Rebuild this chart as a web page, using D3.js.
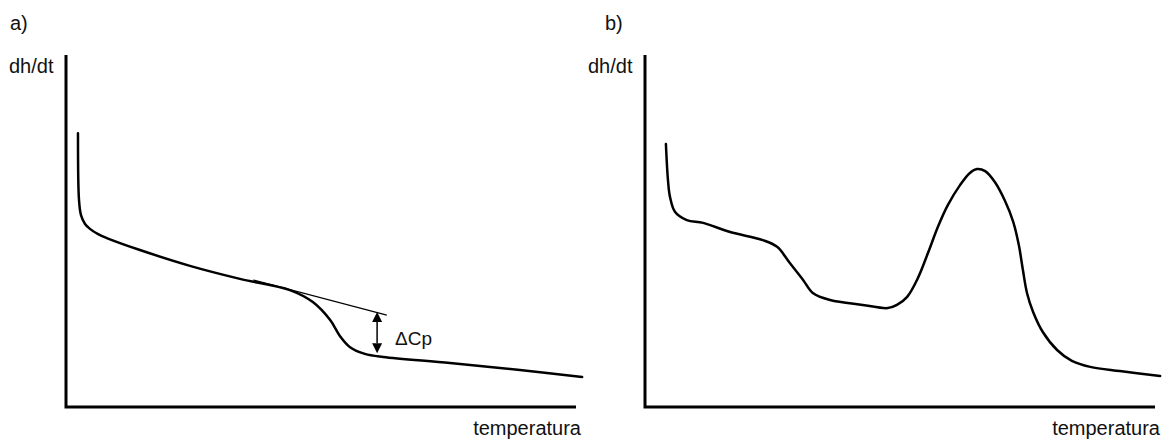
<!DOCTYPE html>
<html>
<head>
<meta charset="utf-8">
<script src="https://cdn.jsdelivr.net/npm/d3@7"></script>
<style>
  html, body { margin: 0; padding: 0; background: #fff; }
  svg text { font-family: "Liberation Sans", Arial, sans-serif; fill: #111; }
</style>
</head>
<body>
<svg id="chart" width="1169" height="440"></svg>
<script>
// Panel a) — glass transition: heat flow vs temperature
const tempA = [2.35, 2.55, 2.94, 3.73, 4.7, 6.3, 8.0, 14.5, 24.3, 34.1, 43.9, 48.4, 51.8, 53.7, 55.7, 58.6, 62.2, 75.3, 89.0, 101.2];
const flowA = [77.8, 58.8, 54.5, 52.0, 50.6, 49.1, 48.0, 44.6, 40.1, 36.4, 33.2, 29.8, 24.7, 20.2, 17.0, 15.1, 14.2, 12.5, 10.5, 8.5];

// extrapolated baseline before the step
const tangentT = [36.7, 62.9];
const tangentF = [36.1, 26.1];

// ΔCp step marker
const stepT = 61.0;
const stepF = [27.0, 15.3];

// Panel b) — step followed by an endothermic peak
const tempB = [4.1, 4.5, 4.9, 5.9, 8.2, 11.4, 16.7, 23.1, 25.9, 28.4, 31.0, 32.9, 36.3, 42.7, 47.6, 49.4, 51.4, 53.5, 55.5, 57.5, 59.4, 61.8, 63.7, 65.1, 66.7, 68.6, 70.6, 72.2, 73.3, 74.1, 74.9, 76.1, 78.0, 80.8, 83.7, 87.3, 93.1, 101.0];
const flowB = [74.7, 64.5, 59.7, 55.4, 53.1, 52.3, 49.7, 47.4, 45.5, 40.9, 36.1, 32.4, 30.4, 29.0, 28.1, 29.0, 31.3, 36.6, 43.8, 51.4, 57.4, 63.1, 66.5, 67.6, 67.0, 63.9, 58.5, 52.6, 46.0, 38.9, 32.4, 27.0, 21.3, 16.2, 13.1, 11.4, 10.2, 8.8];

const panelLabels = ["a)", "b)"];
const yLabel = "dh/dt";
const xLabel = "temperatura";
const stepLabel = "\u0394Cp";

const svg = d3.select("#chart");

const panels = [
  { x0: 66, x1: 576, labelX: 10, yLabelX: 9, temp: tempA, flow: flowA },
  { x0: 645, x1: 1155, labelX: 605, yLabelX: 588, temp: tempB, flow: flowB }
];

const yTop = 55, yBottom = 407;

panels.forEach((p, i) => {
  const x = d3.scaleLinear().domain([0, 100]).range([p.x0, p.x1]);
  const y = d3.scaleLinear().domain([0, 100]).range([yBottom, yTop]);
  const g = svg.append("g");

  // axes as plain heavy lines (no ticks)
  g.append("path")
    .attr("d", `M${x(0)},${y(100)} L${x(0)},${y(0)} L${x(100)},${y(0)}`)
    .attr("fill", "none")
    .attr("stroke", "#000")
    .attr("stroke-width", 3)
    .attr("stroke-linejoin", "miter");

  svg.append("text")
    .attr("x", p.labelX).attr("y", 30)
    .attr("font-size", 20)
    .text(panelLabels[i]);

  svg.append("text")
    .attr("x", p.yLabelX).attr("y", 73)
    .attr("font-size", 20)
    .text(yLabel);

  svg.append("text")
    .attr("x", x(100) + 5).attr("y", 435)
    .attr("font-size", 20)
    .attr("text-anchor", "end")
    .text(xLabel);

  const line = d3.line()
    .x((d, j) => x(p.temp[j]))
    .y((d, j) => y(p.flow[j]))
    .curve(d3.curveCatmullRom.alpha(0.5));

  g.append("path")
    .datum(p.temp)
    .attr("d", line)
    .attr("fill", "none")
    .attr("stroke", "#000")
    .attr("stroke-width", 2.5)
    .attr("stroke-linecap", "round");

  if (i === 0) {
    g.append("line")
      .attr("x1", x(tangentT[0])).attr("y1", y(tangentF[0]))
      .attr("x2", x(tangentT[1])).attr("y2", y(tangentF[1]))
      .attr("stroke", "#000").attr("stroke-width", 1.1);

    const ax = x(stepT), yA = y(stepF[0]), yB = y(stepF[1]);
    const head = 10, hw = 5;
    g.append("line")
      .attr("x1", ax).attr("y1", yA + head)
      .attr("x2", ax).attr("y2", yB - head)
      .attr("stroke", "#000").attr("stroke-width", 1.5);
    g.append("path")
      .attr("d", `M${ax},${yA} L${ax - hw},${yA + head} L${ax + hw},${yA + head} Z`)
      .attr("fill", "#000");
    g.append("path")
      .attr("d", `M${ax},${yB} L${ax - hw},${yB - head} L${ax + hw},${yB - head} Z`)
      .attr("fill", "#000");

    g.append("text")
      .attr("x", ax + 18).attr("y", 345)
      .attr("font-size", 19)
      .text(stepLabel);
  }
});
</script>
</body>
</html>
